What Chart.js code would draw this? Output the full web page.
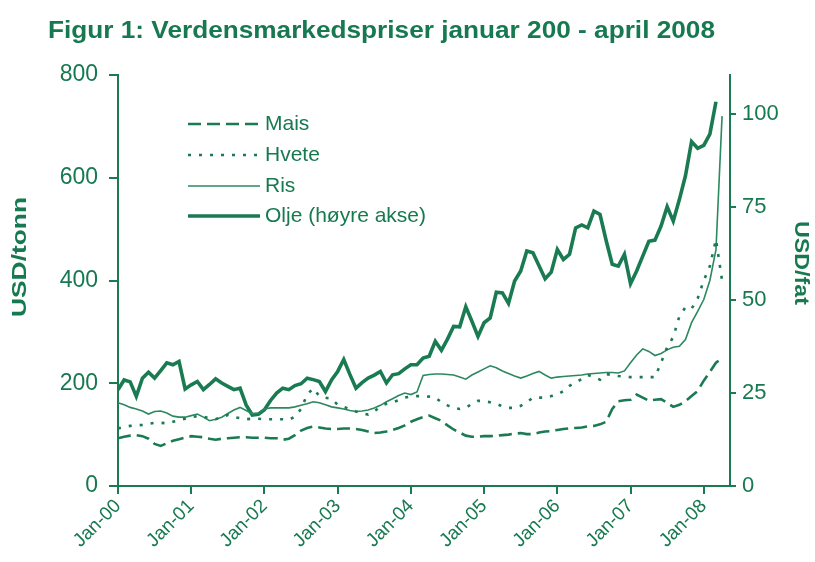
<!DOCTYPE html>
<html><head><meta charset="utf-8">
<script src="https://cdn.jsdelivr.net/npm/chart.js@4.4.1/dist/chart.umd.min.js"></script>
<style>html,body{margin:0;padding:0;background:#fff}#wrap{width:815px;height:562px}</style>
</head><body><div id="wrap"><canvas id="c" width="815" height="562"></canvas></div>
<script>
const titleText = 'Figur 1: Verdensmarkedspriser januar 200 - april 2008';
const leftAxisTitle = 'USD/tonn';
const rightAxisTitle = 'USD/fat';
const tickLabels = ['Jan-00','Jan-01','Jan-02','Jan-03','Jan-04','Jan-05','Jan-06','Jan-07','Jan-08'];
const tickMonths = [0,12,24,36,48,60,72,84,96];
const leftTicks = [0,200,400,600,800];
const rightTicks = [0,25,50,75,100];
const seriesNames = ['Mais','Hvete','Ris','Olje (høyre akse)'];

// monthly values, Jan 2000 onwards (USD/tonn)
const mais = [93,96,98,99,97,92,82,78,83,88,91,94,
  97,96,95,92,90,92,93,94,95,95,94,94,
  94,93,93,90,92,99,108,113,116,114,112,111,
  111,112,112,111,109,106,103,104,106,109,113,118,
  125,130,134,137,132,127,118,110,104,98,96,96,
  97,97,98,99,100,102,103,101,101,104,106,107,
  109,111,112,113,114,116,117,120,125,150,165,167,
  168,178,172,166,168,169,162,154,158,165,175,185,
  205,222,240,249];
const hvete = [112,115,117,118,119,121,123,123,122,125,128,131,
  134,136,135,132,130,134,138,134,132,130,131,131,
  130,130,130,130,129,135,150,178,190,175,172,170,
  158,154,150,145,142,139,145,155,160,163,167,172,
  174,175,175,174,172,163,157,152,150,152,160,166,
  165,163,160,155,152,152,156,163,172,172,172,175,
  178,185,195,202,208,216,212,207,218,216,214,213,
  212,212,212,212,212,240,270,290,330,348,345,365,
  400,428,480,400];
const ris = [162,158,153,150,146,140,145,146,142,136,134,134,
  137,140,134,127,130,134,141,148,153,147,141,142,
  150,152,152,152,152,154,157,160,164,162,158,154,
  152,150,147,145,146,148,152,157,164,170,176,181,
  178,183,215,217,218,218,217,216,212,208,216,222,
  228,234,230,224,219,214,210,214,219,223,216,210,
  212,213,214,215,216,218,219,220,221,221,220,224,
  240,255,267,262,254,258,265,270,272,285,318,340,
  363,400,460,720];
// USD/fat, Jan 2000 - Mar 2008
const olje = [25.9,28.5,28.0,24.1,29.0,30.6,29.0,31.0,33.1,32.6,33.5,26.1,
  27.2,28.1,25.9,27.3,28.8,27.7,26.8,25.9,26.3,21.8,19.1,19.3,
  20.5,23.0,25.0,26.3,25.9,27.0,27.5,29.0,28.6,28.1,25.4,28.5,
  30.8,34.0,30.0,26.3,27.8,29.0,29.8,30.8,27.7,29.9,30.2,31.5,
  32.6,32.6,34.4,34.9,38.9,36.5,39.5,42.9,42.8,48.2,44.3,40.2,
  43.9,45.2,52.1,51.9,49.1,55.1,57.8,63.2,62.7,59.2,55.7,57.5,
  63.6,60.9,62.3,69.4,70.2,69.4,73.9,73.0,66.0,59.6,59.1,62.3,
  54.4,57.8,61.8,65.8,66.1,69.9,75.1,71.2,77.0,83.4,92.6,90.8,
  91.6,94.6,103.3];

const GREEN = '#17794f';
const LINE = '#1a7b52';
const FONT = "'Liberation Sans', Arial, sans-serif";
const toXY = arr => arr.map((v, i) => ({x: i, y: v}));

function fitText(ctx, text, x, y, targetW, rot) {
  const w = ctx.measureText(text).width;
  ctx.save();
  ctx.translate(x, y);
  if (rot) ctx.rotate(rot);
  ctx.scale(targetW / w, 1);
  ctx.fillText(text, 0, 0);
  ctx.restore();
}

const overlay = {
  id: 'overlay',
  afterDraw(chart) {
    const ctx = chart.ctx;
    ctx.save();
    ctx.fillStyle = GREEN;
    // title
    ctx.font = "bold 24px " + FONT;
    ctx.textBaseline = 'alphabetic';
    ctx.textAlign = 'left';
    fitText(ctx, titleText, 48, 38, 667, 0);
    // axis titles
    ctx.font = "bold 21px " + FONT;
    ctx.textAlign = 'center';
    ctx.textBaseline = 'middle';
    fitText(ctx, leftAxisTitle, 20, 257, 120, -Math.PI / 2);
    fitText(ctx, rightAxisTitle, 801, 263, 84, Math.PI / 2);
    // legend
    const rows = [124, 155, 186, 216];
    chart.data.datasets.forEach((ds, i) => {
      const y = rows[i];
      ctx.beginPath();
      ctx.strokeStyle = ds.borderColor;
      ctx.lineWidth = ds.borderWidth;
      ctx.setLineDash(ds.borderDash || []);
      ctx.moveTo(188, y);
      ctx.lineTo(260, y);
      ctx.stroke();
      ctx.setLineDash([]);
      ctx.fillStyle = GREEN;
      ctx.font = "21px " + FONT;
      ctx.textAlign = 'left';
      ctx.textBaseline = 'middle';
      ctx.fillText(ds.label, 265, y);
    });
    ctx.restore();
  }
};

new Chart(document.getElementById('c'), {
  type: 'line',
  data: {
    datasets: [
      {label: seriesNames[0], data: toXY(mais), yAxisID: 'y', borderColor: LINE, borderWidth: 2.6, borderDash: [13, 6], pointRadius: 0, tension: 0},
      {label: seriesNames[1], data: toXY(hvete), yAxisID: 'y', borderColor: LINE, borderWidth: 2.6, borderDash: [3, 8], pointRadius: 0, tension: 0},
      {label: seriesNames[2], data: toXY(ris), yAxisID: 'y', borderColor: '#2b8860', borderWidth: 1.6, pointRadius: 0, tension: 0},
      {label: seriesNames[3], data: toXY(olje), yAxisID: 'y2', borderColor: LINE, borderWidth: 3.6, pointRadius: 0, tension: 0, borderJoinStyle: 'miter'}
    ]
  },
  options: {
    responsive: false,
    devicePixelRatio: 1,
    animation: false,
    layout: {padding: {top: 75, left: 0, right: 0, bottom: 0}},
    plugins: {legend: {display: false}, tooltip: {enabled: false}, title: {display: false}},
    scales: {
      x: {
        type: 'linear', min: 0, max: 100.3,
        afterBuildTicks: s => { s.ticks = tickMonths.map(v => ({value: v})); },
        afterFit: s => { s.height = 76; },
        grid: {drawOnChartArea: false, drawTicks: true, tickLength: 8, color: LINE, lineWidth: 2},
        border: {display: true, color: LINE, width: 2},
        ticks: {
          color: GREEN, font: {family: FONT, size: 19}, maxRotation: 45, minRotation: 45, padding: 1,
          autoSkip: false,
          callback: (v) => { const k = tickMonths.indexOf(v); return k >= 0 ? tickLabels[k] : ''; }
        }
      },
      y: {
        position: 'left', min: 0, max: 800,
        afterBuildTicks: s => { s.ticks = leftTicks.map(v => ({value: v})); },
        afterFit: s => { s.width = 118; },
        grid: {drawOnChartArea: false, drawTicks: true, tickLength: 9, color: LINE, lineWidth: 2},
        border: {display: true, color: LINE, width: 2},
        ticks: {color: GREEN, font: {family: FONT, size: 23}, padding: 11}
      },
      y2: {
        position: 'right', min: 0, max: 110.5,
        afterBuildTicks: s => { s.ticks = rightTicks.map(v => ({value: v})); },
        afterFit: s => { s.width = 85; },
        grid: {drawOnChartArea: false, drawTicks: true, tickLength: 6, color: LINE, lineWidth: 2},
        border: {display: true, color: LINE, width: 2},
        ticks: {color: GREEN, font: {family: FONT, size: 22}, padding: 6}
      }
    }
  },
  plugins: [overlay]
});
</script>
</body></html>
